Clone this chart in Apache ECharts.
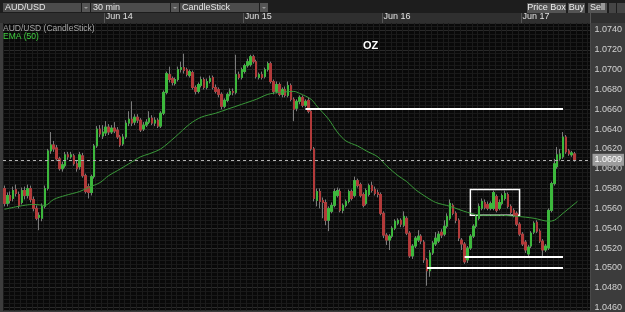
<!DOCTYPE html>
<html>
<head>
<meta charset="utf-8">
<script src="https://cdn.jsdelivr.net/npm/echarts@6/dist/echarts.min.js"></script>
<style>
html, body { margin: 0; padding: 0; background: #3c3c3c; }
#chart { width: 625px; height: 312px; }
</style>
</head>
<body>
<div id="chart"></div>
<script>
// AUD/USD 30 min candles, each row [open, close, low, high]
var candles = [
    [1.0580,1.0565,1.0562,1.0583],[1.0565,1.0573,1.0562,1.0576],[1.0573,1.0568,1.0565,1.0577],[1.0570,1.0578,1.0567,1.0582],
    [1.0579,1.0575,1.0572,1.0584],[1.0574,1.0563,1.0560,1.0577],[1.0566,1.0578,1.0564,1.0581],[1.0578,1.0573,1.0569,1.0582],
    [1.0573,1.0580,1.0570,1.0584],[1.0580,1.0569,1.0566,1.0583],[1.0569,1.0560,1.0557,1.0572],[1.0560,1.0550,1.0548,1.0563],
    [1.0551,1.0553,1.0538,1.0556],[1.0550,1.0562,1.0547,1.0565],[1.0562,1.0580,1.0560,1.0583],[1.0580,1.0618,1.0578,1.0620],
    [1.0618,1.0624,1.0615,1.0637],[1.0624,1.0620,1.0617,1.0628],[1.0621,1.0610,1.0608,1.0624],[1.0610,1.0600,1.0598,1.0612],
    [1.0600,1.0604,1.0597,1.0607],[1.0603,1.0614,1.0601,1.0617],[1.0614,1.0612,1.0609,1.0617],[1.0612,1.0614,1.0610,1.0617],
    [1.0613,1.0605,1.0603,1.0615],[1.0605,1.0600,1.0597,1.0608],[1.0602,1.0614,1.0599,1.0617],[1.0613,1.0593,1.0591,1.0616],
    [1.0593,1.0577,1.0575,1.0595],[1.0582,1.0576,1.0570,1.0585],[1.0576,1.0592,1.0573,1.0594],[1.0592,1.0623,1.0590,1.0625],
    [1.0623,1.0640,1.0621,1.0643],[1.0640,1.0635,1.0632,1.0644],[1.0633,1.0637,1.0630,1.0644],[1.0636,1.0642,1.0633,1.0648],
    [1.0642,1.0637,1.0634,1.0645],[1.0637,1.0641,1.0635,1.0644],[1.0641,1.0638,1.0636,1.0647],[1.0639,1.0632,1.0630,1.0642],
    [1.0632,1.0624,1.0622,1.0634],[1.0625,1.0632,1.0623,1.0635],[1.0632,1.0646,1.0630,1.0649],[1.0646,1.0650,1.0643,1.0658],
    [1.0650,1.0646,1.0643,1.0668],[1.0647,1.0652,1.0644,1.0655],[1.0652,1.0649,1.0646,1.0655],[1.0649,1.0639,1.0637,1.0651],
    [1.0640,1.0644,1.0638,1.0647],[1.0644,1.0647,1.0642,1.0650],[1.0647,1.0651,1.0645,1.0658],[1.0651,1.0646,1.0644,1.0654],
    [1.0646,1.0649,1.0643,1.0652],[1.0649,1.0643,1.0641,1.0651],[1.0643,1.0656,1.0641,1.0658],[1.0656,1.0677,1.0654,1.0679],
    [1.0677,1.0696,1.0675,1.0698],[1.0695,1.0690,1.0687,1.0703],[1.0691,1.0687,1.0684,1.0693],[1.0686,1.0690,1.0684,1.0692],
    [1.0690,1.0700,1.0688,1.0703],[1.0700,1.0702,1.0697,1.0708],[1.0702,1.0699,1.0696,1.0716],[1.0700,1.0695,1.0693,1.0702],
    [1.0694,1.0698,1.0692,1.0700],[1.0697,1.0682,1.0680,1.0699],[1.0682,1.0678,1.0675,1.0684],[1.0678,1.0685,1.0676,1.0687],
    [1.0684,1.0690,1.0682,1.0693],[1.0690,1.0682,1.0680,1.0692],[1.0682,1.0688,1.0680,1.0691],[1.0688,1.0691,1.0686,1.0694],
    [1.0692,1.0682,1.0680,1.0694],[1.0682,1.0678,1.0676,1.0685],[1.0680,1.0675,1.0672,1.0682],[1.0675,1.0663,1.0660,1.0677],
    [1.0663,1.0669,1.0661,1.0671],[1.0669,1.0675,1.0667,1.0677],[1.0675,1.0678,1.0673,1.0681],[1.0678,1.0677,1.0674,1.0681],
    [1.0677,1.0695,1.0675,1.0715],[1.0695,1.0692,1.0690,1.0698],[1.0692,1.0700,1.0690,1.0702],[1.0698,1.0704,1.0696,1.0706],
    [1.0704,1.0708,1.0702,1.0711],[1.0705,1.0713,1.0703,1.0715],[1.0713,1.0708,1.0706,1.0715],[1.0708,1.0693,1.0691,1.0710],
    [1.0692,1.0695,1.0690,1.0697],[1.0695,1.0692,1.0690,1.0698],[1.0693,1.0700,1.0691,1.0702],[1.0700,1.0706,1.0698,1.0708],
    [1.0706,1.0688,1.0686,1.0708],[1.0688,1.0678,1.0675,1.0690],[1.0678,1.0685,1.0676,1.0688],[1.0685,1.0675,1.0673,1.0687],
    [1.0675,1.0680,1.0672,1.0682],[1.0680,1.0674,1.0672,1.0683],[1.0674,1.0684,1.0672,1.0688],[1.0684,1.0670,1.0668,1.0686],
    [1.0670,1.0660,1.0648,1.0672],[1.0661,1.0668,1.0658,1.0670],[1.0668,1.0672,1.0665,1.0674],[1.0672,1.0664,1.0662,1.0674],
    [1.0664,1.0668,1.0662,1.0670],[1.0669,1.0658,1.0656,1.0672],[1.0658,1.0620,1.0618,1.0660],[1.0620,1.0570,1.0567,1.0622],
    [1.0568,1.0577,1.0562,1.0580],[1.0577,1.0567,1.0560,1.0580],[1.0568,1.0566,1.0550,1.0571],[1.0566,1.0548,1.0543,1.0569],
    [1.0548,1.0560,1.0537,1.0562],[1.0557,1.0563,1.0555,1.0566],[1.0563,1.0577,1.0561,1.0580],[1.0573,1.0578,1.0571,1.0581],
    [1.0577,1.0558,1.0556,1.0580],[1.0558,1.0563,1.0555,1.0565],[1.0563,1.0567,1.0561,1.0569],[1.0567,1.0577,1.0565,1.0579],
    [1.0577,1.0570,1.0568,1.0579],[1.0573,1.0588,1.0571,1.0592],[1.0588,1.0583,1.0581,1.0590],[1.0584,1.0573,1.0571,1.0586],
    [1.0574,1.0563,1.0561,1.0576],[1.0565,1.0578,1.0563,1.0580],[1.0574,1.0583,1.0572,1.0585],[1.0583,1.0578,1.0576,1.0587],
    [1.0579,1.0575,1.0573,1.0582],[1.0576,1.0574,1.0571,1.0579],[1.0574,1.0555,1.0553,1.0576],[1.0555,1.0533,1.0530,1.0557],
    [1.0533,1.0528,1.0523,1.0535],[1.0528,1.0532,1.0518,1.0534],[1.0532,1.0540,1.0530,1.0542],[1.0540,1.0547,1.0538,1.0549],
    [1.0545,1.0548,1.0543,1.0550],[1.0548,1.0544,1.0541,1.0550],[1.0543,1.0552,1.0541,1.0557],[1.0550,1.0535,1.0533,1.0552],
    [1.0535,1.0512,1.0510,1.0537],[1.0512,1.0522,1.0509,1.0524],[1.0522,1.0530,1.0520,1.0532],[1.0528,1.0532,1.0526,1.0538],
    [1.0532,1.0527,1.0524,1.0534],[1.0526,1.0508,1.0505,1.0528],[1.0508,1.0497,1.0482,1.0510],[1.0497,1.0515,1.0491,1.0518],
    [1.0515,1.0525,1.0513,1.0527],[1.0524,1.0530,1.0522,1.0536],[1.0527,1.0534,1.0525,1.0537],[1.0536,1.0533,1.0530,1.0539],
    [1.0534,1.0542,1.0532,1.0548],[1.0542,1.0552,1.0540,1.0555],[1.0550,1.0565,1.0548,1.0569],[1.0563,1.0555,1.0553,1.0565],
    [1.0555,1.0548,1.0545,1.0557],[1.0548,1.0530,1.0527,1.0550],[1.0528,1.0524,1.0518,1.0530],[1.0524,1.0506,1.0504,1.0526],
    [1.0508,1.0520,1.0505,1.0522],[1.0520,1.0532,1.0518,1.0534],[1.0532,1.0542,1.0530,1.0544],[1.0542,1.0552,1.0540,1.0554],
    [1.0550,1.0562,1.0548,1.0565],[1.0560,1.0567,1.0558,1.0570],[1.0566,1.0561,1.0559,1.0569],[1.0564,1.0560,1.0558,1.0567],
    [1.0560,1.0565,1.0558,1.0567],[1.0560,1.0576,1.0558,1.0578],[1.0572,1.0558,1.0556,1.0574],[1.0560,1.0566,1.0558,1.0569],
    [1.0565,1.0573,1.0563,1.0575],[1.0570,1.0575,1.0568,1.0578],[1.0574,1.0562,1.0560,1.0576],[1.0562,1.0556,1.0554,1.0564],
    [1.0558,1.0553,1.0551,1.0560],[1.0555,1.0544,1.0542,1.0557],[1.0544,1.0534,1.0532,1.0546],[1.0534,1.0524,1.0522,1.0536],
    [1.0526,1.0518,1.0515,1.0528],[1.0514,1.0521,1.0510,1.0523],[1.0522,1.0535,1.0520,1.0537],[1.0536,1.0545,1.0534,1.0547],
    [1.0546,1.0537,1.0535,1.0548],[1.0537,1.0527,1.0525,1.0539],[1.0527,1.0518,1.0512,1.0529],[1.0518,1.0522,1.0516,1.0524],
    [1.0520,1.0558,1.0518,1.0560],[1.0558,1.0585,1.0556,1.0587],[1.0585,1.0605,1.0583,1.0610],[1.0602,1.0614,1.0600,1.0622],
    [1.0610,1.0615,1.0608,1.0620],[1.0612,1.0632,1.0610,1.0637],[1.0632,1.0617,1.0615,1.0634],[1.0618,1.0615,1.0613,1.0620],
    [1.0614,1.0616,1.0612,1.0618],[1.0615,1.0609,1.0607,1.0617]
];

// EMA (50): [candle index, price]
var emaPoints = [
    [0,1.0559],[10,1.0564],[14,1.0563],[17,1.0569],[21,1.0573],[26,1.0577],[29,1.0581],[33,1.0586],
    [36,1.0593],[39,1.0598],[43,1.0605],[47,1.0612],[50,1.0615],[54,1.0620],[59,1.0632],[64,1.0645],
    [68,1.0652],[73,1.0656],[77,1.0660],[82,1.0665],[87,1.0670],[91,1.0675],[95,1.0677],[100,1.0678],
    [102,1.0676],[106,1.0670],[108,1.0663],[112,1.0650],[115,1.0637],[118,1.0628],[122,1.0623],[125,1.0618],
    [129,1.0612],[132,1.0603],[136,1.0593],[139,1.0587],[142,1.0579],[146,1.0571],[149,1.0566],[154,1.0562],
    [160,1.0556],[165,1.0553],[171,1.0553],[177,1.0552],[183,1.0550],[188,1.0547],[190,1.0548],[193,1.0555],
    [198,1.0567]
];

var dayLabels = ['Jun 14', 'Jun 15', 'Jun 16', 'Jun 17'];
var dayStarts = [35, 83, 131, 179];   // first candle of each day
var slotCount = 203;                  // candle slots across the plot (last ones empty)
var lastPrice = 1.0609;

// drawn annotations: [from index, to index, price]
var hLines = [
    [104, 193, 1.0661],
    [159, 193, 1.0511],
    [146, 193, 1.0500]
];
var boxRange = [161, 178, 1.0579, 1.0553];

var categories = [];
for (var i = 0; i < slotCount; i++) categories.push(String(i));

var bodies = candles.map(function (c) {
    return [c[0], c[1], Math.min(c[0], c[1]), Math.max(c[0], c[1])];
});

var FONT = 'Liberation Sans, Arial, sans-serif';

function dropBox(x, w, label) {
    return [
        { type: 'rect', z: 50, shape: { x: x, y: 3, width: w - 9, height: 9 }, style: { fill: '#4c4c4c' } },
        { type: 'rect', z: 50, shape: { x: x + w - 8, y: 3, width: 8, height: 9 }, style: { fill: '#555555' } },
        { type: 'polygon', z: 51, shape: { points: [[x + w - 6, 7], [x + w - 2, 7], [x + w - 4, 9]] }, style: { fill: '#9a9a9a' } },
        { type: 'text', z: 51, x: x + 2, y: 8, style: { text: label, fill: '#e6e6e6', font: '9px ' + FONT, verticalAlign: 'middle' } }
    ];
}

function button(x, w, label) {
    return [
        { type: 'rect', z: 50, shape: { x: x, y: 3, width: w, height: 10 }, style: { fill: '#545454' } },
        { type: 'text', z: 51, x: x + w / 2, y: 8, style: { text: label, fill: '#eeeeee', font: '9px ' + FONT, align: 'center', verticalAlign: 'middle' } }
    ];
}

var chrome = [
    { type: 'rect', z: -10, shape: { x: 0, y: 0, width: 625, height: 13 }, style: { fill: '#1d1d1d' } },
    { type: 'rect', z: -10, shape: { x: 0, y: 13, width: 625, height: 10 }, style: { fill: '#2f2f2f' } }
].concat(
    dropBox(3, 87, 'AUD/USD'),
    dropBox(91, 88, '30 min'),
    dropBox(180, 88, 'CandleStick'),
    button(527, 39, 'Price Box'),
    button(568, 17, 'Buy'),
    button(588, 19, 'Sell'),
    [
        { type: 'rect', z: 50, shape: { x: 609, y: 3, width: 7, height: 10 }, style: { fill: '#454545' } },
        { type: 'rect', z: 50, shape: { x: 617, y: 3, width: 8, height: 10 }, style: { fill: '#454545' } },
        { type: 'text', z: 60, x: 3, y: 24, style: { text: 'AUD/USD (CandleStick)', fill: '#a6a6a6', font: '8.5px ' + FONT } },
        { type: 'text', z: 60, x: 3, y: 32, style: { text: 'EMA (50)', fill: '#3fcf3f', font: '8.5px ' + FONT } },
        { type: 'text', z: 60, x: 363, y: 40, style: { text: 'OZ', fill: '#ffffff', font: 'bold 11px ' + FONT } }
    ]
);

var myChart = echarts.init(document.getElementById('chart'), null, { renderer: 'canvas' });

var option = {
    animation: false,
    backgroundColor: '#3c3c3c',
    grid: {
        left: 3, right: 30, top: 23, bottom: 0,
        show: true, backgroundColor: '#090909', borderWidth: 0
    },
    graphic: chrome,
    xAxis: {
        type: 'category',
        position: 'top',
        data: categories,
        boundaryGap: true,
        axisLine: { show: false },
        axisTick: {
            show: true,
            length: 10,
            interval: function (idx) { return dayStarts.indexOf(idx) >= 0; },
            lineStyle: { color: '#555' }
        },
        axisLabel: {
            interval: function (idx) { return dayStarts.indexOf(idx) >= 0; },
            formatter: function (v, idx) {
                var k = dayStarts.indexOf(idx);
                return k >= 0 ? dayLabels[k] : '';
            },
            align: 'left',
            margin: 2,
            color: '#e0e0e0',
            fontSize: 9,
            fontFamily: FONT
        },
        splitLine: { show: true, interval: 1, lineStyle: { color: '#1b1b1b', width: 1 } }
    },
    yAxis: {
        type: 'value',
        position: 'right',
        min: 1.0457,
        max: 1.0747,
        splitNumber: 14,
        axisLine: { show: true, lineStyle: { color: '#4a4a4a' } },
        axisTick: { show: false },
        axisLabel: {
            margin: 4,
            color: '#d2d2d2',
            fontSize: 9,
            fontFamily: FONT,
            showMinLabel: false,
            showMaxLabel: false,
            formatter: function (v) {
                var k = v * 500;
                return Math.abs(k - Math.round(k)) < 1e-6 ? v.toFixed(4) : '';
            }
        },
        splitLine: { show: true, lineStyle: { color: '#2a2a2a' } },
        minorTick: { show: false, splitNumber: 5 },
        minorSplitLine: { show: true, lineStyle: { color: '#191919' } }
    },
    series: [
        {
            // wicks (grey)
            type: 'candlestick',
            data: candles,
            barWidth: 2,
            itemStyle: {
                color: 'rgba(0,0,0,0)', color0: 'rgba(0,0,0,0)',
                borderColor: '#7c7c7c', borderColor0: '#7c7c7c', borderWidth: 1
            },
            markLine: {
                silent: true,
                precision: 4,
                symbol: ['none', 'none'],
                data: [
                    {
                        yAxis: lastPrice,
                        lineStyle: { color: '#b4b4b4', type: [3, 3], width: 1 },
                        label: {
                            show: true, position: 'end', distance: 2,
                            formatter: lastPrice.toFixed(4),
                            color: '#ffffff', backgroundColor: '#9c9c9c',
                            padding: [2, 2, 1, 2], fontSize: 9, fontFamily: FONT
                        }
                    }
                ].concat(hLines.map(function (l) {
                    return [
                        { coord: [l[0], l[2]], lineStyle: { color: '#ffffff', width: 2, type: 'solid' }, label: { show: false } },
                        { coord: [l[1], l[2]] }
                    ];
                }))
            },
            markArea: {
                silent: true,
                itemStyle: { color: 'rgba(0,0,0,0)', borderColor: '#ffffff', borderWidth: 1.5 },
                data: [[
                    { coord: [boxRange[0], boxRange[2]] },
                    { coord: [boxRange[1], boxRange[3]] }
                ]]
            }
        },
        {
            // bodies
            type: 'candlestick',
            data: bodies,
            barWidth: 2,
            itemStyle: {
                color: '#3cb83c', color0: '#b23a3a',
                borderColor: '#3cb83c', borderColor0: '#b23a3a', borderWidth: 1
            }
        },
        {
            name: 'EMA (50)',
            type: 'line',
            data: emaPoints,
            showSymbol: false,
            smooth: 0.3,
            lineStyle: { color: '#3a9a3a', width: 1 }
        }
    ]
};

myChart.setOption(option);
</script>
</body>
</html>
